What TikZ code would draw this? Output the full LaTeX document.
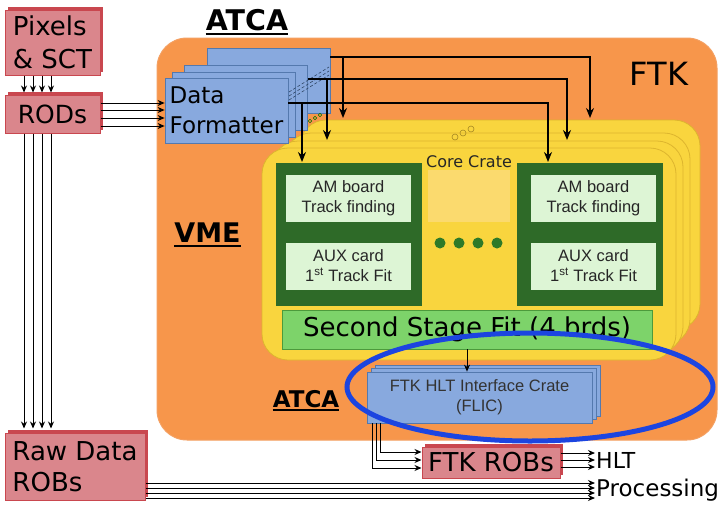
\documentclass[tikz,border=0pt]{standalone}
\usepackage{fontspec}
\setmainfont{DejaVu Sans}
\newfontfamily\arialf{Liberation Sans}
\usetikzlibrary{arrows.meta,shadows}
\definecolor{pinkf}{HTML}{DA868C}
\definecolor{pinkd}{HTML}{C9474F}
\definecolor{orangef}{HTML}{F7964B}
\definecolor{oranged}{HTML}{F4A062}
\definecolor{yellowf}{HTML}{F9D53E}
\definecolor{yellowd}{HTML}{DDB52E}
\definecolor{bluef}{HTML}{88A9DE}
\definecolor{blued}{HTML}{5479AE}
\definecolor{darkg}{HTML}{2E6A28}
\definecolor{lightg}{HTML}{DDF5D5}
\definecolor{midg}{HTML}{7DD36A}
\definecolor{midgd}{HTML}{4C9A3C}
\definecolor{ellb}{HTML}{1C45E0}
\definecolor{paley}{HTML}{FBDA6E}
\definecolor{dotg}{HTML}{2E7A28}
\begin{document}
\begin{tikzpicture}[x=1pt,y=-1pt,
  redbox/.style={draw=pinkd, fill=pinkf, line width=1pt, inner sep=0pt, align=left,
    drop shadow={shadow xshift=3pt, shadow yshift=3pt, opacity=1, fill=pinkd}},
  bluebox/.style={draw=blued, fill=bluef, line width=0.8pt, inner sep=0pt, minimum width=123pt, minimum height=65pt},
  flicbox/.style={draw=blued, fill=bluef, line width=0.8pt, inner sep=0pt, minimum width=225pt, minimum height=51pt},
  yellowbox/.style={draw=yellowd, fill=yellowf, line width=0.8pt, rounded corners=26pt, inner sep=0pt},
  board/.style={fill=darkg, inner sep=0pt, minimum width=146pt, minimum height=143pt},
  card/.style={fill=lightg, inner sep=0pt, minimum width=125pt, minimum height=47pt, align=center,
    font=\arialf\fontsize{16.5}{20}\selectfont, text=black!85},
  arr/.style={-{Stealth[length=7pt,width=6pt]}, line width=1pt},
  bigarr/.style={-{Stealth[length=10pt,width=8pt]}, line width=1.6pt},
  lbl/.style={inner sep=0pt, anchor=base},
]
\useasboundingbox (0,0) rectangle (723,504);
\fill[white] (0,0) rectangle (723,504);

% FTK container
\node[draw=oranged, fill=orangef, line width=1pt, rounded corners=30pt, minimum width=560pt,
      minimum height=402pt, inner sep=0pt] (ftk) at (437,239) {};
\node[lbl, font=\fontsize{32}{32}\selectfont] (ftklbl) at (659,85) {FTK};

% yellow crates
\node[yellowbox, minimum width=400pt, minimum height=210pt] (yA) at (500,225) {};
\node[yellowbox, minimum width=405pt, minimum height=212pt] (yB) at (487.5,239) {};
\node[yellowbox, minimum width=411pt, minimum height=212pt] (yC) at (477.5,247) {};
\node[yellowbox, minimum width=414pt, minimum height=212pt] (yF) at (469,254) {};
\node[fill=paley, minimum width=82pt, minimum height=52pt, inner sep=0pt] (mid) at (469,196) {};
\node[lbl, font=\fontsize{16}{16}\selectfont, text=black!85] (core) at (469,167) {Core Crate};
\foreach \p in {(455,137),(463,133),(471,129)} \draw[yellowd!75!black, line width=0.6pt] \p circle (3pt);

% boards
\node[board] (bL) at (349,234.5) {};
\node[board] (bR) at (590,234.5) {};
\node[card] (amL) at (348.5,198.5) {AM board\\Track finding};
\node[card] (auxL) at (348.5,266) {AUX card\\1\textsuperscript{st} Track Fit};
\node[card] (amR) at (593.5,198.5) {AM board\\Track finding};
\node[card] (auxR) at (593.5,266) {AUX card\\1\textsuperscript{st} Track Fit};
\foreach \x in {440,459,478,497} \fill[dotg] (\x,243) circle (5.5pt);

\node[draw=midgd, fill=midg, line width=0.8pt, minimum width=370pt, minimum height=39pt, inner sep=0pt,
      font=\fontsize{26}{26}\selectfont] (ssf) at (467,329.5) {Second Stage Fit (4 brds)};

% FLIC
\node[flicbox] (fl2) at (487.5,390.5) {};
\node[flicbox] (fl1) at (483.5,394) {};
\node[flicbox, align=center, font=\arialf\fontsize{16.5}{20}\selectfont, text=black!80] (flic) at (479.5,397.5)
  {FTK HLT Interface Crate\\(FLIC)};
\draw[arr] (ssf.south) -- (ssf.south |- flic.north);

\node[lbl, font=\bfseries\fontsize{23}{23}\selectfont] (atcab) at (306,407) {ATCA};
\draw[line width=1.3pt] ([yshift=-3pt]atcab.base west) -- ([yshift=-3pt]atcab.base east);
\node[lbl, font=\bfseries\fontsize{27}{27}\selectfont] (vme) at (207.5,242) {VME};
\draw[line width=1.5pt] ([yshift=-4pt]vme.base west) -- ([yshift=-4pt]vme.base east);

% Data formatter
\node[bluebox] (dfA) at (268.5,80.5) {};
\node[bluebox] (dfB) at (246,97.5) {};
\node[bluebox] (dfC) at (234,104.5) {};
\node[bluebox, align=left, font=\fontsize{23}{30}\selectfont] (df) at (226.5,110.5) {Data\\Formatter};
\foreach \s in {0,4,8} \draw[blued!60!black, dashed, line width=0.6pt, dash pattern=on 3pt off 2pt] (289,92+\s) -- (329,67+\s);
\foreach \p in {(310,121),(315,118),(320,115)} \draw[green!45!black, line width=0.6pt] \p circle (1.8pt);

\node[lbl, font=\bfseries\fontsize{28.5}{28.5}\selectfont] (atcat) at (247,30) {ATCA};
\draw[line width=1.6pt] ([yshift=-4pt]atcat.base west) -- ([yshift=-4pt]atcat.base east);

\coordinate (t1) at (590,118); \coordinate (t1b) at (343,118);
\coordinate (t2) at (567,140); \coordinate (t2b) at (327,140);
\coordinate (t3) at (548,162); \coordinate (t3b) at (302,162);
\draw[bigarr] (dfA.east |- 0,57) -| (t1);
\draw[bigarr] (t1b |- 0,57) -- (t1b);
\draw[bigarr] (dfB.east |- 0,79) -| (t2);
\draw[bigarr] (t2b |- 0,79) -- (t2b);
\draw[bigarr] (df.east |- 0,103) -| (t3);
\draw[bigarr] (t3b |- 0,103) -- (t3b);

% pink boxes
\node[redbox, minimum width=95pt, minimum height=65pt, font=\fontsize{26}{33}\selectfont] (pix) at (52.5,42.5) {Pixels\\\& SCT};
\node[redbox, minimum width=95pt, minimum height=38pt, font=\fontsize{25}{30}\selectfont] (rods) at (52.5,114) {RODs};
\node[redbox, minimum width=140pt, minimum height=67pt, font=\fontsize{26}{31}\selectfont] (raw) at (75,466.5) {Raw Data\\ROBs};
\node[redbox, minimum width=138pt, minimum height=31pt, font=\fontsize{26}{26}\selectfont] (robs) at (491,462.5) {FTK ROBs};
\node[anchor=west, inner sep=0pt, font=\fontsize{22}{22}\selectfont] (hlt) at (596,460) {HLT};
\node[anchor=base west, inner sep=0pt, font=\fontsize{23}{23}\selectfont] (proc) at (596,496) {Processing};

\foreach \dx in {24,33,42,51} \draw[arr, shorten >=2pt] (pix.south -| \dx,0) -- (rods.north -| \dx,0);
\foreach \dy in {103,110,118,126} \draw[arr] (rods.east |- 0,\dy) -- (df.west |- 0,\dy);
\foreach \dx in {24,33,42,51} \draw[arr, shorten >=4pt] (rods.south -| \dx,0) -- (raw.north -| \dx,0);
\foreach \dy in {483,488,493,498} \draw[arr, shorten >=1pt] (raw.east |- 0,\dy) -- (proc.west |- 0,\dy);
\foreach \dy in {453,460,467} \draw[arr, shorten >=1pt] (robs.east |- 0,\dy) -- (hlt.west |- 0,\dy);
\draw[arr] (flic.south -| 372,0) |- (robs.west |- 0,468);
\draw[arr] (flic.south -| 376,0) |- (robs.west |- 0,460);
\draw[arr] (flic.south -| 380,0) |- (robs.west |- 0,452);

% highlight ellipse
\draw[ellb, line width=5pt] (530,387) ellipse [x radius=183pt, y radius=54pt];
\end{tikzpicture}
\end{document}
